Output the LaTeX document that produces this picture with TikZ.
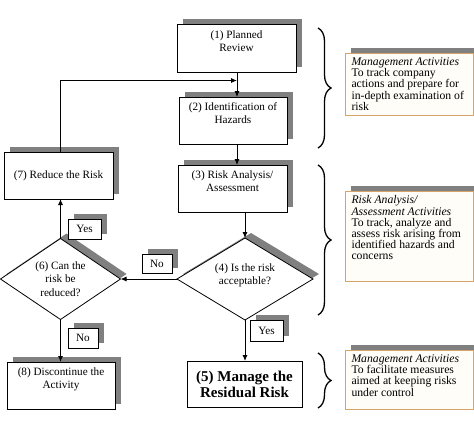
\documentclass[tikz,border=0pt]{standalone}
\usepackage{fontspec}
\setmainfont{Liberation Serif}
\usetikzlibrary{shapes.geometric,arrows.meta,shadows,decorations.pathreplacing,calc}
\definecolor{shgray}{HTML}{808080}
\definecolor{tanline}{HTML}{D6A36A}
\definecolor{cream}{HTML}{FFFDF8}
\begin{document}
\begin{tikzpicture}[x=1pt,y=-1pt,
  every node/.style={inner sep=0pt, outer sep=0pt},
  box/.style={draw=black, line width=0.8pt, fill=white, rectangle},
  shd/.style={general shadow={fill=shgray, shadow xshift=6pt, shadow yshift=5pt}},
  boxtxt/.style={align=center, font=\fontsize{11.2}{13.3}\selectfont},
  bigtxt/.style={align=center, font=\fontsize{15}{16}\selectfont\bfseries},
  dia/.style={draw=black, line width=0.8pt, fill=white, diamond},
  tag/.style={draw=black, line width=0.8pt, fill=white, font=\fontsize{11.2}{13}\selectfont},
  info/.style={draw=tanline, line width=1pt, fill=cream, rectangle},
  infotxt/.style={align=left, font=\fontsize{11.7}{11.2}\selectfont},
  arr/.style={draw=black, line width=0.9pt, -{Latex[length=6pt,width=5pt]}},
  brc/.style={draw=black, line width=1.3pt, decorate, decoration={brace, amplitude=13pt}},
]
\useasboundingbox (0,0) rectangle (474,440);
\clip (0,0) rectangle (474,440);

% process boxes
\node[box, shd, minimum width=119pt, minimum height=48pt] (b1) at (236.5,48) {};
\node[boxtxt, anchor=north] (t1) at ([yshift=-6.4pt]b1.north) {(1) Planned\\Review};
\node[box, shd, minimum width=108pt, minimum height=47pt] (b2) at (233,120.5) {};
\node[boxtxt, anchor=north] (t2) at ([yshift=-5.4pt]b2.north) {(2) Identification of\\Hazards};
\node[box, shd, minimum width=109pt, minimum height=47pt] (b3) at (232.5,188.5) {};
\node[boxtxt, anchor=north] (t3) at ([yshift=-5.4pt]b3.north) {(3) Risk Analysis/\\Assessment};
\node[box, shd, boxtxt, minimum width=109pt, minimum height=47pt] (b7) at (58.5,175.5) {(7) Reduce the Risk};
\node[box, shd, minimum width=108pt, minimum height=47pt] (b8) at (61,385.5) {};
\node[boxtxt, anchor=north] (t8) at ([yshift=-5.4pt]b8.north) {(8) Discontinue the\\Activity};
\node[box, bigtxt, minimum width=115pt, minimum height=46pt] (b5) at (244.5,384) {(5) Manage the\\Residual Risk};

% decisions
\node[dia, shd, aspect=1.66, minimum width=136pt, minimum height=82pt] (d4) at (245,279) {};
\node[boxtxt] (t4) at ([yshift=4pt]d4.center) {(4) Is the risk\\acceptable?};
\node[dia, shd, aspect=1.48, minimum width=120pt, minimum height=81pt] (d6) at (60.5,279) {};
\node[boxtxt] (t6) at (d6.center) {(6) Can the\\risk be\\reduced?};

% connectors
\coordinate (j) at (237,80.5);
\draw[arr] (b1.south -| j) -- (b2.north -| j);
\draw[arr] (b2.south -| j) -- (b3.north -| j);
\draw[arr] (b3.south -| d4.north) -- (d4.north);
\draw[arr] (d4.south) -- (b5.north -| d4.south);
\draw[arr] (d4.west) -- (d6.east);
\draw[arr] (d6.north) -- (b7.south -| d6.north);
\draw[arr] (d6.south) -- (b8.north -| d6.south);
\draw[arr] (b7.north -| d6.north) |- (j);

% yes / no tags
\node[tag, shd, minimum width=33pt, minimum height=20pt] (y1) at (84.5,229) {Yes};
\node[tag, shd, minimum width=30pt, minimum height=19pt] (n1) at (157,263.5) {No};
\node[tag, shd, minimum width=30pt, minimum height=20pt] (n2) at (83,338) {No};
\node[tag, shd, minimum width=33pt, minimum height=21pt] (y2) at (266.5,330.5) {Yes};

% braces
\draw[brc] (318,28) -- (318,148);
\draw[brc] (318,165) -- (318,315);
\draw[brc] (318,353) -- (318,408);

% info boxes
\node[info, shd, anchor=north west, minimum width=128pt, minimum height=62pt] (ia) at (345,53) {};
\node[infotxt, anchor=north west] (ta) at ([xshift=6.5pt, yshift=-4.7pt]ia.north west)
  {\textit{Management Activities}\\To track company\\actions and prepare for\\in-depth examination of\\risk};
\node[info, shd, anchor=north west, minimum width=128pt, minimum height=90pt] (ib) at (345,191) {};
\node[infotxt, anchor=north west] (tb) at ([xshift=6.5pt, yshift=-4.7pt]ib.north west)
  {\textit{Risk Analysis/}\\\textit{Assessment Activities}\\To track, analyze and\\assess risk arising from\\identified hazards and\\concerns};
\node[info, shd, anchor=north west, minimum width=128pt, minimum height=59pt] (ic) at (345,350) {};
\node[infotxt, anchor=north west] (tc) at ([xshift=6.5pt, yshift=-4.7pt]ic.north west)
  {\textit{Management Activities}\\To facilitate measures\\aimed at keeping risks\\under control};
\end{tikzpicture}
\end{document}
